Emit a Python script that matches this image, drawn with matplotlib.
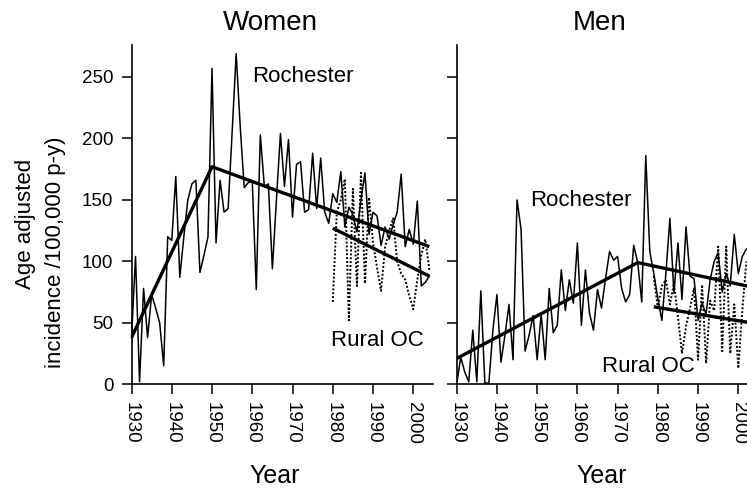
import matplotlib
matplotlib.use("Agg")
import matplotlib.pyplot as plt

plt.rcParams['font.family'] = ['Liberation Sans', 'DejaVu Sans']

# ---------------- data ----------------
women_years = list(range(1930, 2005))
women_roch = [38, 104, 2, 78, 38, 73, 62, 50, 15, 120,
              117, 169, 87, 120, 150, 163, 166, 91, 105, 120,
              257, 115, 166, 140, 143, 205, 269, 210, 160, 164,
              165, 77, 203, 161, 163, 94, 150, 204, 161, 199,
              136, 179, 181, 140, 142, 188, 143, 184, 140, 131,
              155, 148, 173, 128, 144, 138, 124, 150, 172, 122,
              140, 137, 113, 128, 118, 130, 140, 171, 112, 126,
              114, 149, 80, 83, 88]
women_rural_years = list(range(1980, 2005))
women_rural = [67, 140, 150, 167, 52, 159, 80, 172, 82, 152,
               115, 95, 76, 112, 125, 135, 100, 90, 85, 72,
               61, 85, 105, 118, 93]
women_roch_trend_years = [1930, 1950, 2004]
women_roch_trend = [38, 177, 112]
women_rural_trend_years = [1980, 2004]
women_rural_trend = [127, 88]

men_years = list(range(1930, 2003))
men_roch = [0, 22, 10, 2, 44, 2, 76, 1, 1, 44,
            73, 18, 40, 65, 20, 150, 126, 27, 40, 56,
            20, 57, 20, 78, 42, 48, 93, 60, 85, 66,
            115, 48, 93, 58, 44, 77, 62, 86, 108, 101,
            104, 78, 67, 73, 113, 99, 67, 186, 108, 90,
            70, 52, 90, 135, 74, 115, 69, 128, 88, 86,
            52, 66, 57, 85, 100, 107, 75, 90, 80, 122,
            90, 104, 110]
men_rural_years = list(range(1979, 2003))
men_rural = [88, 62, 80, 85, 65, 82, 55, 25, 47, 62,
             78, 20, 81, 17, 68, 60, 112, 27, 112, 25,
             65, 13, 60, 100]
men_roch_trend_years = [1930, 1975, 2005]
men_roch_trend = [21, 99, 78]
men_rural_trend_years = [1979, 2005]
men_rural_trend = [63, 49]

yticks = [0, 50, 100, 150, 200, 250]
xticks = [1930, 1940, 1950, 1960, 1970, 1980, 1990, 2000]

# ---------------- figure ----------------
W, H = 747, 491
fig = plt.figure(figsize=(W / 100, H / 100), dpi=100)

def px_axes(left, top, right, bottom):
    return fig.add_axes([left / W, 1 - bottom / H, (right - left) / W, (bottom - top) / H])

axW = px_axes(131.5, 45, 433, 384.3)
axM = px_axes(456.7, 45, 758, 384.3)

def style(ax, labels_y):
    ax.set_xlim(1930, 2004.9)
    ax.set_ylim(0, 276)
    for s in ['top', 'right']:
        ax.spines[s].set_visible(False)
    for s in ['left', 'bottom']:
        ax.spines[s].set_linewidth(1.2)
    ax.set_xticks(xticks)
    ax.set_xticklabels([str(t) for t in xticks], rotation=-90, fontsize=13.5,
                       va='top', ha='center')
    ax.set_yticks(yticks)
    if labels_y:
        ax.set_yticklabels([str(t) for t in yticks], fontsize=13.5)
    else:
        ax.set_yticklabels([])
    ax.tick_params(axis='both', direction='out', length=7, width=1.1, pad=6)
    ax.tick_params(axis='y', pad=6)

style(axW, True)
style(axM, False)

# Women
axW.plot(women_years, women_roch, color='black', lw=1.1, clip_on=False)
axW.plot(women_rural_years, women_rural, color='black', lw=1.4, ls=(0, (1, 1)), clip_on=False)
axW.plot(women_roch_trend_years, women_roch_trend, color='black', lw=2.4, solid_capstyle='butt')
axW.plot(women_rural_trend_years, women_rural_trend, color='black', lw=2.4, solid_capstyle='butt')

# Men
axM.plot(men_years, men_roch, color='black', lw=1.1)
axM.plot(men_rural_years, men_rural, color='black', lw=1.4, ls=(0, (1, 1)))
axM.plot(men_roch_trend_years, men_roch_trend, color='black', lw=2.4, solid_capstyle='butt')
axM.plot(men_rural_trend_years, men_rural_trend, color='black', lw=2.4, solid_capstyle='butt')

# annotations (pixel positions)
def ftext(x, y, s, size, **kw):
    fig.text(x / W, 1 - y / H, s, fontsize=size, ha='center', va='center', **kw)

ftext(270, 23, 'Women', 20)
ftext(600, 23, 'Men', 20)
ftext(303, 77, 'Rochester', 16)
ftext(377, 340, 'Rural OC', 16)
ftext(581, 200, 'Rochester', 16)
ftext(648, 366, 'Rural OC', 16)
ftext(275, 476, 'Year', 18)
ftext(602, 476, 'Year', 18)
ftext(25, 224, 'Age adjusted', 16, rotation=90)
ftext(55, 252, 'incidence /100,000 p-y)', 16, rotation=90)

fig.savefig('out.png', dpi=100)
